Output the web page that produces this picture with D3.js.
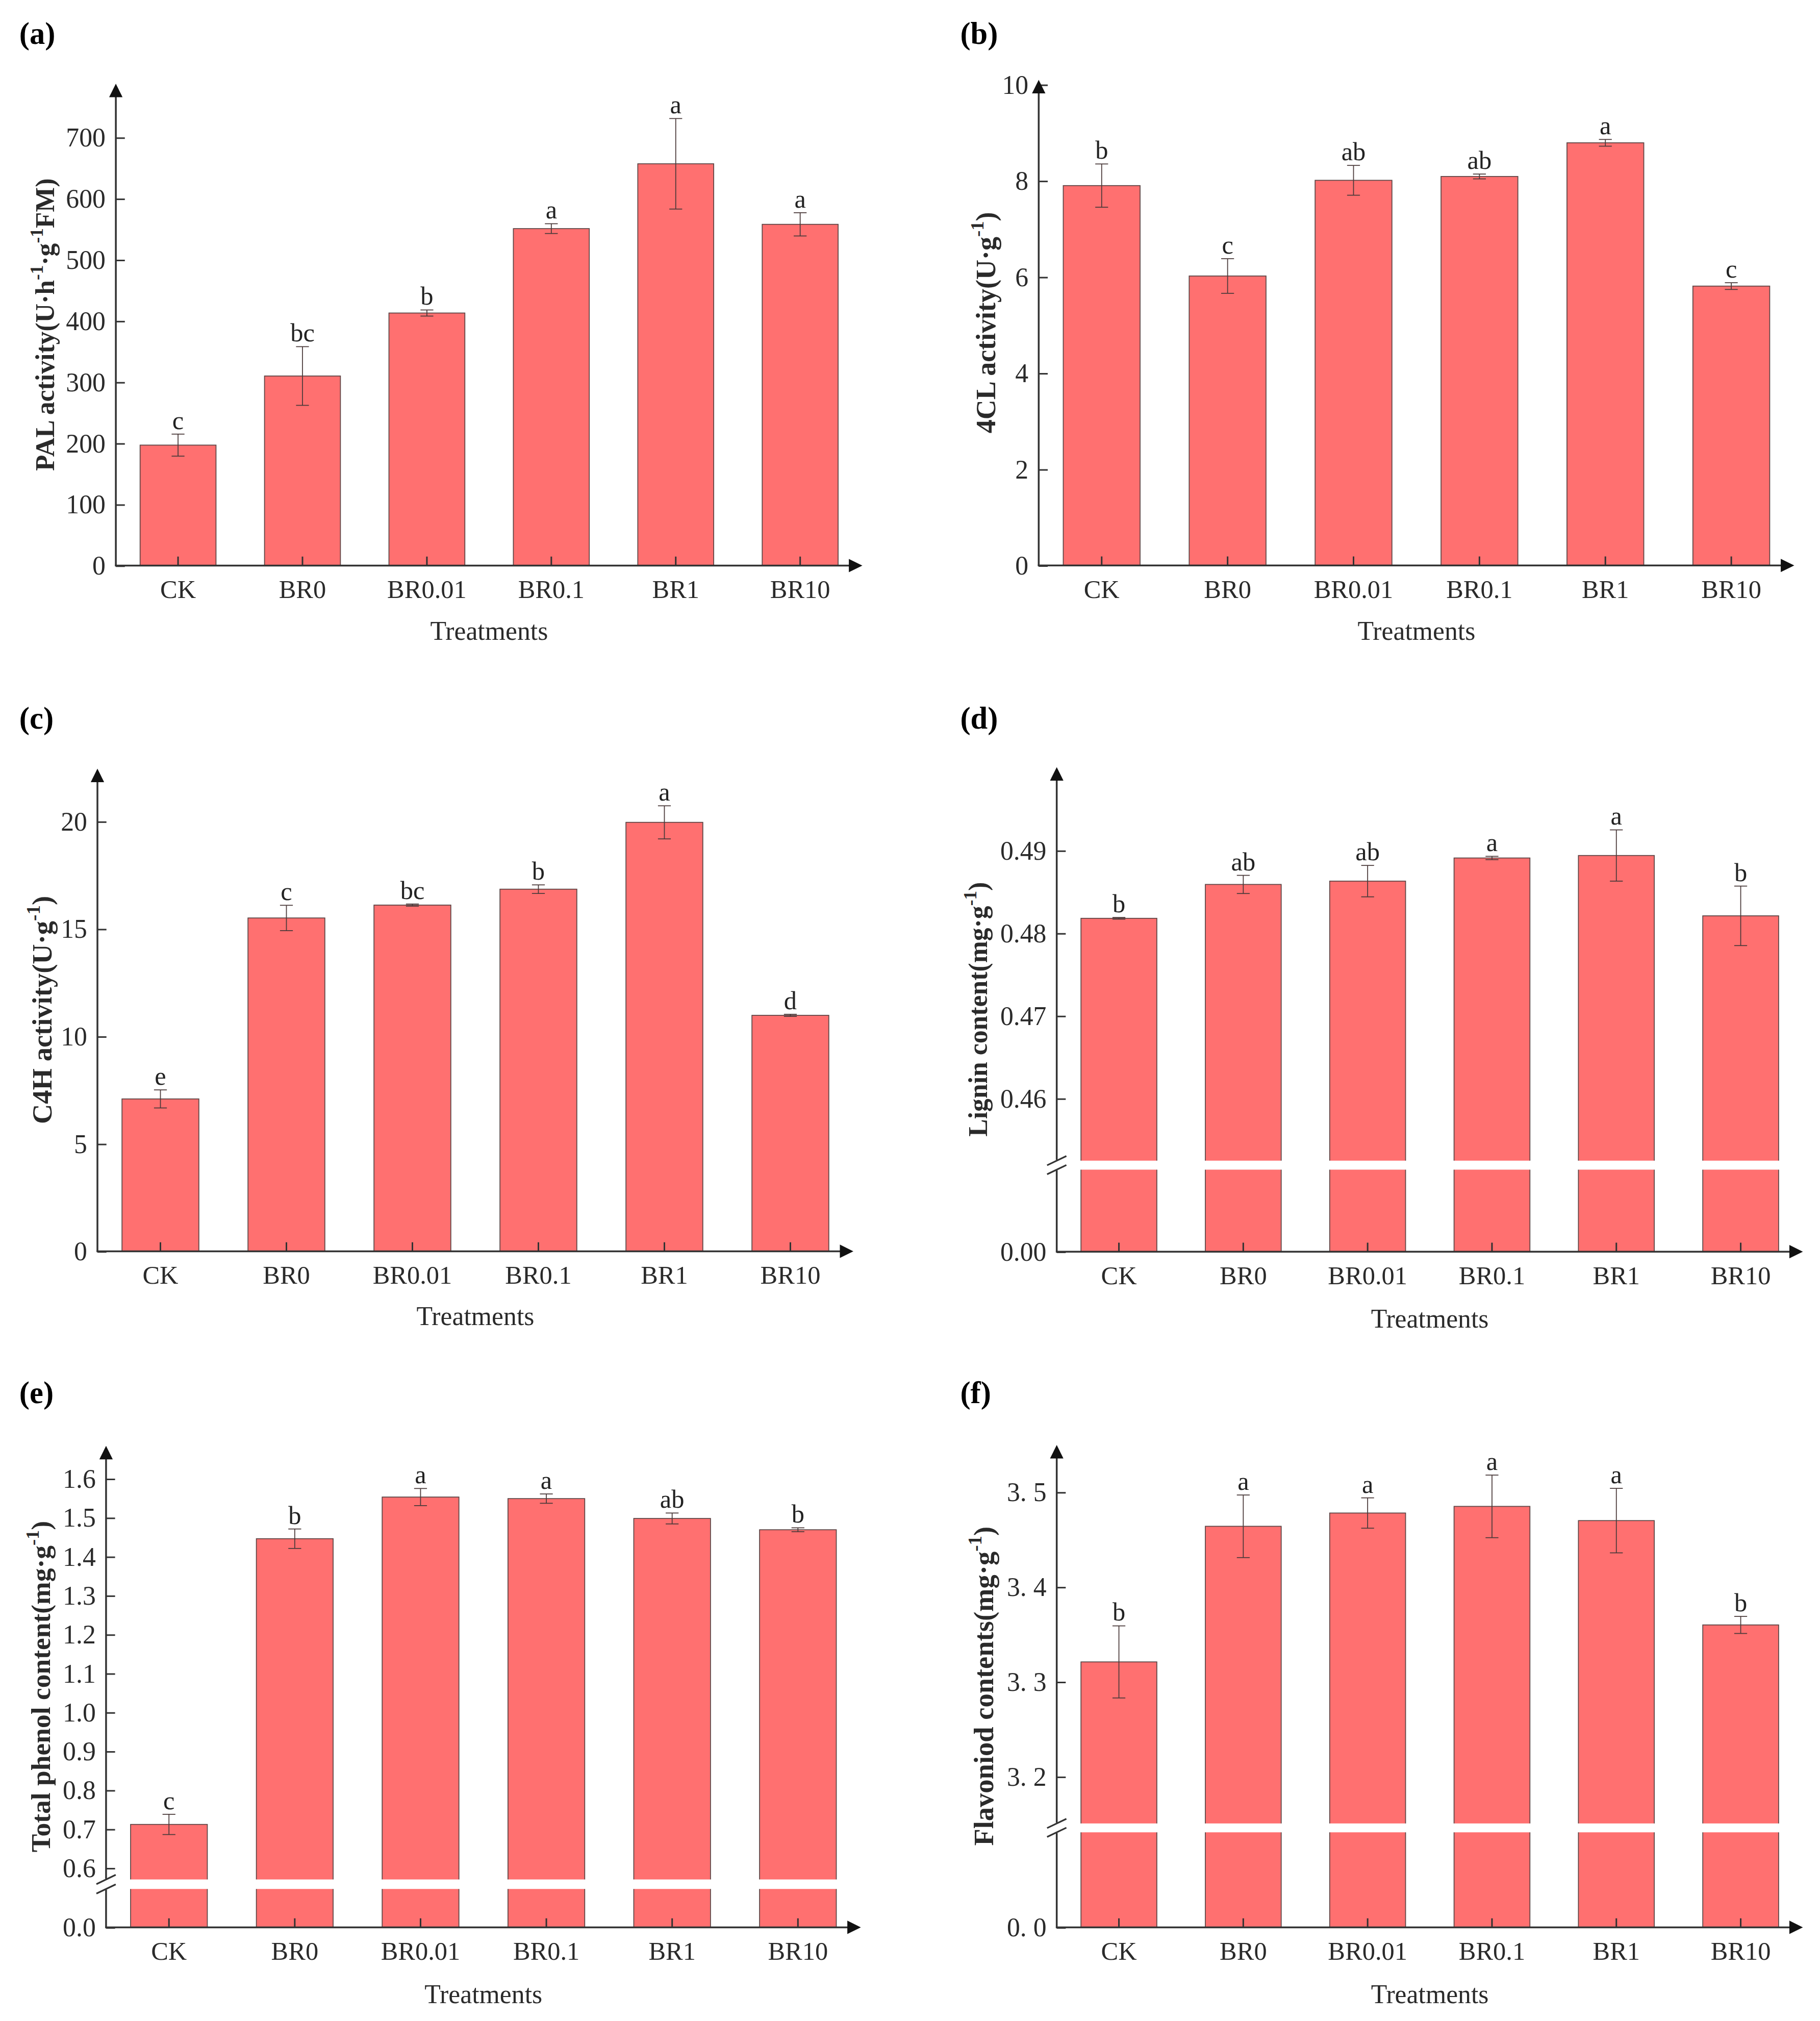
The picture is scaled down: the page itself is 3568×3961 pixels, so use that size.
<!DOCTYPE html>
<html>
<head>
<meta charset="utf-8">
<script src="https://cdn.jsdelivr.net/npm/d3@7"></script>
<style>
  html, body { margin: 0; padding: 0; background: #fff; }
  svg { display: block; }
</style>
</head>
<body>
<div id="chart"></div>
<script>
// ---- data ----
const categories = ['CK', 'BR0', 'BR0.01', 'BR0.1', 'BR1', 'BR10'];

// (a) PAL activity
const palMean = [197, 310, 413, 551, 657, 558];
const palErr = [18, 48, 5, 8, 74, 19];
const palLetters = ['c', 'bc', 'b', 'a', 'a', 'a'];
const palTicks = [0, 100, 200, 300, 400, 500, 600, 700];
const palTickText = ['0', '100', '200', '300', '400', '500', '600', '700'];

// (b) 4CL activity
const clMean = [7.90, 6.02, 8.01, 8.09, 8.79, 5.81];
const clErr = [0.45, 0.36, 0.31, 0.05, 0.07, 0.07];
const clLetters = ['b', 'c', 'ab', 'ab', 'a', 'c'];
const clTicks = [0, 2, 4, 6, 8, 10];
const clTickText = ['0', '2', '4', '6', '8', '10'];

// (c) C4H activity
const c4hMean = [7.09, 15.51, 16.11, 16.85, 19.96, 10.98];
const c4hErr = [0.42, 0.59, 0.05, 0.2, 0.77, 0.05];
const c4hLetters = ['e', 'c', 'bc', 'b', 'a', 'd'];
const c4hTicks = [0, 5, 10, 15, 20];
const c4hTickText = ['0', '5', '10', '15', '20'];

// (d) Lignin content (broken axis)
const ligninMean = [0.4818, 0.4859, 0.4863, 0.4891, 0.4894, 0.4821];
const ligninErr = [0.0001, 0.0011, 0.0019, 0.0002, 0.0031, 0.0036];
const ligninLetters = ['b', 'ab', 'ab', 'a', 'a', 'b'];
const ligninTicks = [0.46, 0.47, 0.48, 0.49];
const ligninTickText = ['0.46', '0.47', '0.48', '0.49'];
const ligninLowTicks = [0];
const ligninLowTickText = ['0.00'];

// (e) Total phenol content (broken axis)
const phenolMean = [0.712, 1.446, 1.553, 1.549, 1.498, 1.469];
const phenolErr = [0.026, 0.025, 0.022, 0.012, 0.014, 0.005];
const phenolLetters = ['c', 'b', 'a', 'a', 'ab', 'b'];
const phenolTicks = [0.6, 0.7, 0.8, 0.9, 1.0, 1.1, 1.2, 1.3, 1.4, 1.5, 1.6];
const phenolTickText = ['0.6', '0.7', '0.8', '0.9', '1.0', '1.1', '1.2', '1.3', '1.4', '1.5', '1.6'];
const phenolLowTicks = [0];
const phenolLowTickText = ['0.0'];

// (f) Flavonoid contents (broken axis)
const flavMean = [3.321, 3.464, 3.478, 3.485, 3.470, 3.360];
const flavErr = [0.038, 0.033, 0.016, 0.033, 0.034, 0.009];
const flavLetters = ['b', 'a', 'a', 'a', 'a', 'b'];
const flavTicks = [3.2, 3.3, 3.4, 3.5];
const flavTickText = ['3. 2', '3. 3', '3. 4', '3. 5'];
const flavLowTicks = [0];
const flavLowTickText = ['0. 0'];

// ---- layout (figure units, viewBox scaled to the 3568x3961 page) ----
const W = 1414;
const H = 3961 * W / 3568;
const BAR_FILL = '#ff7070';
const SERIF = '"Liberation Serif", "Times New Roman", Times, serif';

const panels = [
    { tag: '(a)', tagX: 15, tagY: 34, ax: 90, ay: 439.3, right: 670, top: 65, yMax: 788,
      means: palMean, errs: palErr, letters: palLetters, ticks: palTicks, tickText: palTickText,
      label: [['PAL activity(U·h'], ['-1', 1], ['·g'], ['-1', 1], ['FM)']], labelX: 36, labelSize: 20.5, titleY: 497 },
    { tag: '(b)', tagX: 746, tagY: 34, ax: 807, ay: 439.2, right: 1394, top: 62, yMax: 10.1,
      means: clMean, errs: clErr, letters: clLetters, ticks: clTicks, tickText: clTickText,
      label: [['4CL activity(U·g'], ['-1', 1], [')']], labelX: 767, labelSize: 21.4, titleY: 497 },
    { tag: '(c)', tagX: 15, tagY: 566, ax: 75.7, ay: 971.9, right: 663, top: 597, yMax: 22.46,
      means: c4hMean, errs: c4hErr, letters: c4hLetters, ticks: c4hTicks, tickText: c4hTickText,
      label: [['C4H activity(U·g'], ['-1', 1], [')']], labelX: 34, labelSize: 21.6, titleY: 1029 },
    { tag: '(d)', tagX: 746, tagY: 566, ax: 821, ay: 972.2, right: 1400.7, top: 595.8, yMax: 0.5001,
      brk: { gapTop: 902, gapBottom: 908, from: 0.4524 },
      lowTicks: ligninLowTicks, lowTickText: ligninLowTickText,
      means: ligninMean, errs: ligninErr, letters: ligninLetters, ticks: ligninTicks, tickText: ligninTickText,
      label: [['Lignin content(mg·g'], ['-1', 1], [')']], labelX: 761, labelSize: 20.5, titleY: 1031 },
    { tag: '(e)', tagX: 15, tagY: 1090, ax: 82.4, ay: 1497, right: 668.8, top: 1123, yMax: 1.6846,
      brk: { gapTop: 1460.3, gapBottom: 1466.7, from: 0.569 },
      lowTicks: phenolLowTicks, lowTickText: phenolLowTickText,
      means: phenolMean, errs: phenolErr, letters: phenolLetters, ticks: phenolTicks, tickText: phenolTickText,
      label: [['Total phenol content(mg·g'], ['-1', 1], [')']], labelX: 33, labelSize: 21.2, titleY: 1556 },
    { tag: '(f)', tagX: 746, tagY: 1090, ax: 821, ay: 1497, right: 1400.7, top: 1122.3, yMax: 3.5498,
      brk: { gapTop: 1416.8, gapBottom: 1422.7, from: 3.150 },
      lowTicks: flavLowTicks, lowTickText: flavLowTickText,
      means: flavMean, errs: flavErr, letters: flavLetters, ticks: flavTicks, tickText: flavTickText,
      label: [['Flavoniod contents(mg·g'], ['-1', 1], [')']], labelX: 765.5, labelSize: 21.6, titleY: 1556 }
];

const svg = d3.select('#chart')
    .append('svg')
    .attr('width', 3568)
    .attr('height', 3961)
    .attr('viewBox', `0 0 ${W} ${H}`)
    .style('background', '#fff');

// text with superscript parts: [[text], [text, isSup]]
function richText(sel, parts, size) {
    const supSize = size * 0.68;
    const shift = size * 0.42;
    let up = false;
    parts.forEach(p => {
        const t = sel.append('tspan').text(p[0]);
        if (p[1]) {
            t.attr('font-size', supSize).attr('dy', up ? 0 : -shift);
            up = true;
        } else {
            t.attr('dy', up ? shift : 0);
            up = false;
        }
    });
}

panels.forEach(p => {
    const g = svg.append('g');

    // category scale: axis start to arrow tip, bars ~60% of the step
    const x = d3.scaleBand()
        .domain(categories)
        .range([p.ax, p.right])
        .paddingInner(0.39)
        .paddingOuter(0.195);

    // value scales; broken panels get a compressed lower segment
    let yHi, yLo = null;
    if (p.brk) {
        yHi = d3.scaleLinear().domain([p.brk.from, p.yMax]).range([p.brk.gapTop, p.top]);
        yLo = d3.scaleLinear().domain([0, p.brk.from]).range([p.ay, p.brk.gapBottom]);
    } else {
        yHi = d3.scaleLinear().domain([0, p.yMax]).range([p.ay, p.top]);
    }
    const base = p.brk ? p.brk.from : 0;

    const rows = categories.map((c, i) => ({ c, m: p.means[i], e: p.errs[i], l: p.letters[i] }));

    // bars
    g.append('g').selectAll('rect.upper')
        .data(rows)
        .join('rect')
        .attr('x', d => x(d.c))
        .attr('width', x.bandwidth())
        .attr('y', d => yHi(d.m))
        .attr('height', d => yHi(base) - yHi(d.m))
        .attr('fill', BAR_FILL)
        .attr('stroke', '#5e4646')
        .attr('stroke-width', 0.7);

    if (yLo) {
        g.append('g').selectAll('rect.lower')
            .data(rows)
            .join('rect')
            .attr('x', d => x(d.c))
            .attr('width', x.bandwidth())
            .attr('y', yLo(base))
            .attr('height', yLo(0) - yLo(base))
            .attr('fill', BAR_FILL)
            .attr('stroke', '#5e4646')
            .attr('stroke-width', 0.7);
        // white band hides the joint outline
        g.append('g').selectAll('rect.gap')
            .data(rows)
            .join('rect')
            .attr('x', d => x(d.c) - 1)
            .attr('width', x.bandwidth() + 2)
            .attr('y', yHi(base) - 0.5)
            .attr('height', yLo(base) - yHi(base) + 1)
            .attr('fill', '#fff');
    }

    // error bars
    const cap = 5;
    const eb = g.append('g')
        .attr('stroke', '#4a3a3a')
        .attr('stroke-width', 0.7)
        .selectAll('g')
        .data(rows)
        .join('g')
        .attr('transform', d => `translate(${x(d.c) + x.bandwidth() / 2},0)`);
    eb.append('line').attr('y1', d => yHi(d.m - d.e)).attr('y2', d => yHi(d.m + d.e));
    eb.append('line').attr('x1', -cap).attr('x2', cap).attr('y1', d => yHi(d.m + d.e)).attr('y2', d => yHi(d.m + d.e));
    eb.append('line').attr('x1', -cap).attr('x2', cap).attr('y1', d => yHi(d.m - d.e)).attr('y2', d => yHi(d.m - d.e));

    // significance letters
    g.append('g').selectAll('text')
        .data(rows)
        .join('text')
        .attr('x', d => x(d.c) + x.bandwidth() / 2)
        .attr('y', d => yHi(d.m + d.e) - 4)
        .attr('text-anchor', 'middle')
        .style('font-family', SERIF)
        .style('font-size', '20px')
        .attr('fill', '#222')
        .text(d => d.l);

    // y axis ticks (inward) and labels
    const styleAxis = sel => {
        sel.select('.domain').remove();
        sel.selectAll('.tick line').attr('stroke', '#333').attr('stroke-width', 1.2);
        sel.selectAll('.tick text')
            .style('font-family', SERIF)
            .style('font-size', '20.5px')
            .attr('fill', '#2a2a2a');
    };
    g.append('g')
        .attr('transform', `translate(${p.ax},0)`)
        .call(d3.axisLeft(yHi).tickValues(p.ticks).tickSize(-7).tickPadding(8)
            .tickFormat((d, i) => p.tickText[i]))
        .call(styleAxis);
    if (yLo) {
        g.append('g')
            .attr('transform', `translate(${p.ax},0)`)
            .call(d3.axisLeft(yLo).tickValues(p.lowTicks).tickSize(-7).tickPadding(8)
                .tickFormat((d, i) => p.lowTickText[i]))
            .call(styleAxis);
    }

    // x axis ticks (inward) and category labels
    g.append('g')
        .attr('transform', `translate(0,${p.ay})`)
        .call(d3.axisBottom(x).tickSize(-7).tickPadding(11))
        .call(styleAxis)
        .selectAll('.tick text').style('font-size', '20px');

    // axis lines with arrowheads
    const axes = g.append('g').attr('stroke', '#333').attr('stroke-width', 1.4).attr('fill', 'none');
    axes.append('line').attr('x1', p.ax - 0.7).attr('x2', p.right - 8).attr('y1', p.ay).attr('y2', p.ay);
    if (p.brk) {
        axes.append('line').attr('x1', p.ax).attr('x2', p.ax).attr('y1', p.ay).attr('y2', p.brk.gapBottom + 1);
        axes.append('line').attr('x1', p.ax).attr('x2', p.ax).attr('y1', p.brk.gapTop - 1).attr('y2', p.top + 8);
        [p.brk.gapTop - 0.5, p.brk.gapBottom + 0.5].forEach(yy => {
            axes.append('line')
                .attr('x1', p.ax - 7.5).attr('y1', yy + 3.6)
                .attr('x2', p.ax + 7.5).attr('y2', yy - 3.6)
                .attr('stroke-width', 1.3);
        });
    } else {
        axes.append('line').attr('x1', p.ax).attr('x2', p.ax).attr('y1', p.ay).attr('y2', p.top + 8);
    }
    g.append('path')
        .attr('d', `M${p.ax},${p.top}L${p.ax - 5.2},${p.top + 10.5}L${p.ax + 5.2},${p.top + 10.5}Z`)
        .attr('fill', '#111');
    g.append('path')
        .attr('d', `M${p.right},${p.ay}L${p.right - 10.5},${p.ay - 5.2}L${p.right - 10.5},${p.ay + 5.2}Z`)
        .attr('fill', '#111');

    // axis titles
    g.append('text')
        .attr('x', (p.ax + p.right) / 2)
        .attr('y', p.titleY)
        .attr('text-anchor', 'middle')
        .style('font-family', SERIF)
        .style('font-size', '20.5px')
        .attr('fill', '#2a2a2a')
        .text('Treatments');

    const yl = g.append('text')
        .attr('transform', `translate(${p.labelX + 6},${(p.ay + p.top) / 2}) rotate(-90)`)
        .attr('text-anchor', 'middle')
        .style('font-family', SERIF)
        .style('font-size', p.labelSize + 'px')
        .style('font-weight', 'bold')
        .attr('fill', '#2a2a2a');
    richText(yl, p.label, p.labelSize);

    // panel tag
    g.append('text')
        .attr('x', p.tagX)
        .attr('y', p.tagY)
        .style('font-family', SERIF)
        .style('font-size', '24px')
        .style('font-weight', 'bold')
        .attr('fill', '#000')
        .text(p.tag);
});
</script>
</body>
</html>
